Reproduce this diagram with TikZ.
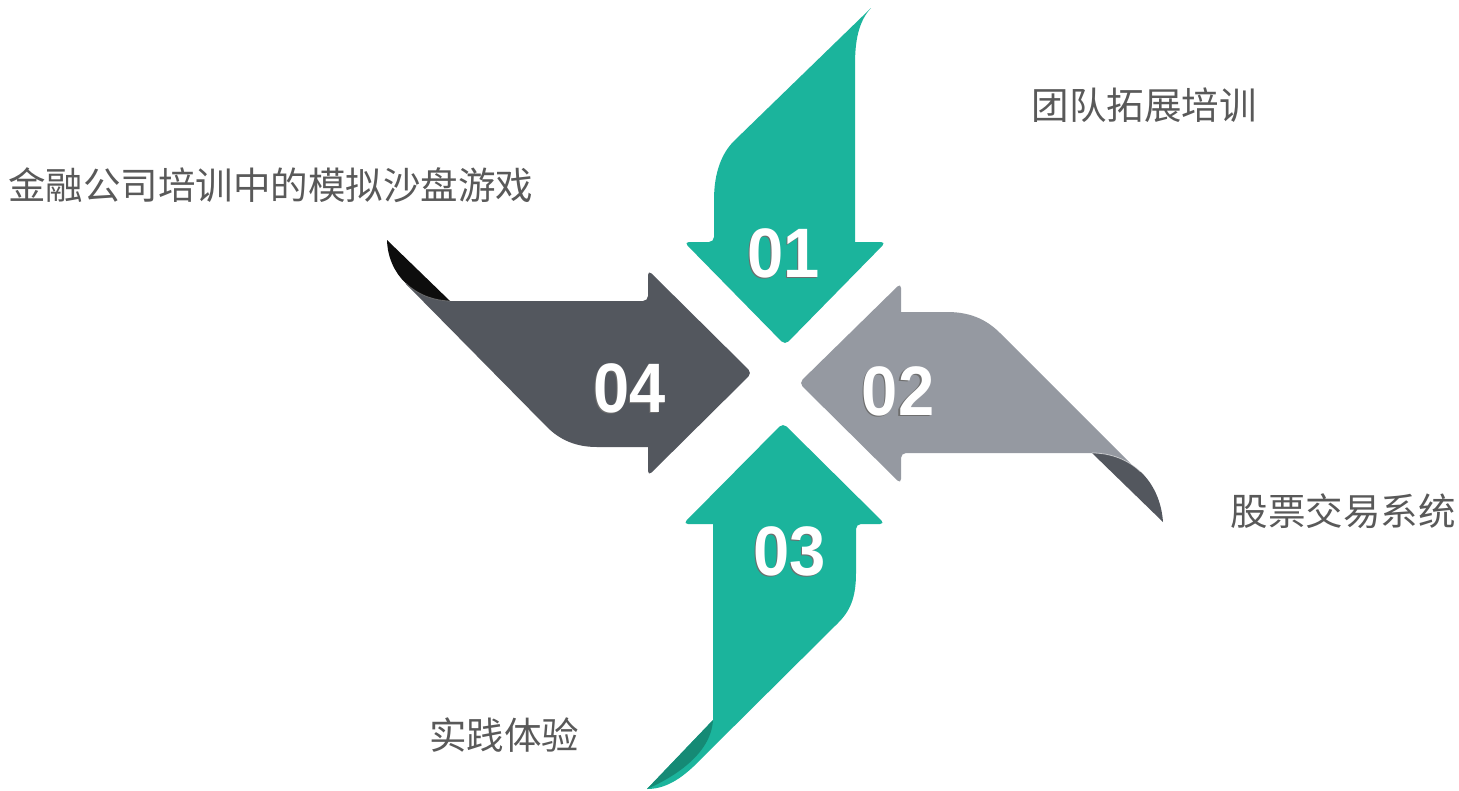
\documentclass[tikz,border=0pt]{standalone}
\usepackage{fontspec}
\setmainfont{Liberation Sans}
\newfontfamily\cjk{Noto Sans CJK SC}
\definecolor{tealA}{RGB}{27,180,156}
\definecolor{greyB}{RGB}{149,153,161}
\definecolor{darkD}{RGB}{83,87,94}
\definecolor{curlB}{RGB}{83,87,94}
\definecolor{curlC}{RGB}{21,138,117}
\definecolor{curlD}{RGB}{13,13,13}
\definecolor{lblgray}{RGB}{89,89,89}
\definecolor{numshadow}{RGB}{110,110,110}
\begin{document}
\begin{tikzpicture}[x=1pt,y=-1pt,
  lbl/.style={inner sep=0pt, text=lblgray, font=\cjk\fontsize{37.5}{44}\selectfont},
  num/.style={inner sep=0pt, text=white, font=\bfseries\fontsize{70}{80}\selectfont, xscale=0.93},
  numsh/.style={num, text=numshadow}]
\useasboundingbox (0,0) rectangle (1459,790);
\fill[white] (0,0) rectangle (1459,790);

% arrow 01 (down)
\fill[tealA] (871,8) .. controls (858,22) and (855,42) .. (855,65) -- (855,242)
  [rounded corners=5pt] -- (886,242) -- (785,345) -- (684,242) -- (714,242)
  [sharp corners] -- (714,200) .. controls (714,172) and (722,153) .. (734,141) -- cycle;

% arrow 02 (left)
\fill[greyB] (1139,472) -- (1000,333) .. controls (985,318) and (968,312) .. (947,312) -- (901,312)
  [rounded corners=5pt] -- (901,283) -- (799,383) -- (901,484) -- (901,453)
  [sharp corners] -- (1092,453) -- cycle;
\fill[curlB] (1092,453) -- (1163,522) .. controls (1160,480) and (1130,453) .. (1092,453) -- cycle;
\draw[white, opacity=0.6, line width=0.8pt] (1140.6,471.75) .. controls (1128,459.75) and (1111,453) .. (1092,453);

% arrow 03 (up)
\fill[tealA] (713,720) -- (713,524)
  [rounded corners=5pt] -- (683,524) -- (783,423) -- (885,524) -- (856,524)
  [sharp corners] -- (856,573) .. controls (856,598) and (850,611) .. (838,623) -- (703,757)
  .. controls (685,776) and (668,789) .. (647,789) -- cycle;
\fill[curlC] (713,720) -- (647,789) .. controls (672,778) and (711,755) .. (713,720) -- cycle;

% arrow 04 (right)
\fill[darkD] (406,284) -- (547,427) .. controls (560,440) and (576,447) .. (597,447) -- (648,447)
  [rounded corners=5pt] -- (648,476) -- (752,373) -- (648,270) -- (648,301)
  [sharp corners] -- (450,301) -- cycle;
\fill[curlD] (450,301) -- (387,240) .. controls (388,275) and (415,300) .. (450,301) -- cycle;
\draw[gray, opacity=0.7, line width=0.8pt] (405.75,283.25) .. controls (417,294) and (432.5,300.5) .. (450,301);

% numbers
\node[numsh] (n1s) at (782.5,254.5) {01};
\node[num]   (n1)  at (784,253) {01};
\node[numsh] (n2s) at (896.5,392.5) {02};
\node[num]   (n2)  at (898,391) {02};
\node[numsh] (n3s) at (788.5,552.5) {03};
\node[num]   (n3)  at (790,551) {03};
\node[numsh] (n4s) at (628.5,389.5) {04};
\node[num]   (n4)  at (630,388) {04};

% labels
\node[lbl] (l1) at (1144,105) {团队拓展培训};
\node[lbl] (l2) at (271,185) {金融公司培训中的模拟沙盘游戏};
\node[lbl] (l3) at (1343,511) {股票交易系统};
\node[lbl] (l4) at (504,735) {实践体验};
\end{tikzpicture}
\end{document}
